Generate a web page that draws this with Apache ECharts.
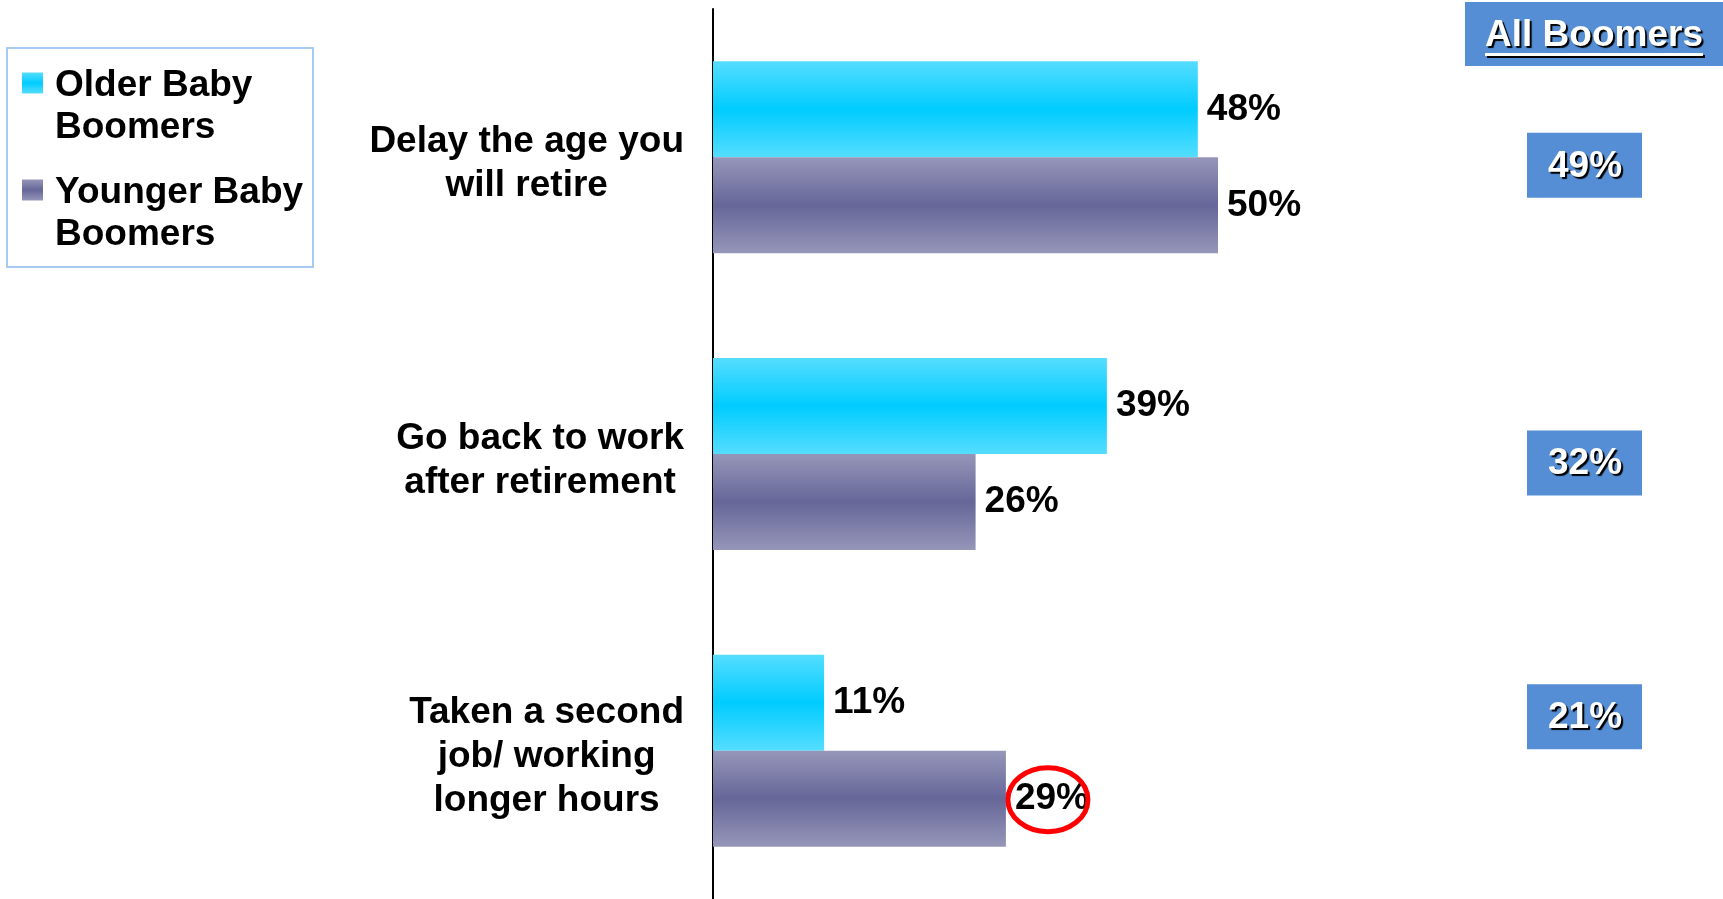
<!DOCTYPE html>
<html><head><meta charset="utf-8">
<script src="https://cdn.jsdelivr.net/npm/echarts@6/dist/echarts.min.js"></script>
<style>html,body{margin:0;padding:0;background:#fff}#c{width:1723px;height:899px}</style>
</head><body><div id="c"></div>
<script>
// ---- data ----
const categories = ['Delay the age you\nwill retire', 'Go back to work\nafter retirement', 'Taken a second\njob/ working\nlonger hours'];
const seriesNames = ['Older Baby\nBoomers', 'Younger Baby\nBoomers'];
const olderValues = [48, 39, 11];
const youngerValues = [50, 26, 29];
const allBoomersTitle = 'All Boomers';
const allBoomersValues = [49, 32, 21];
const circledSeries = 1;      // Younger Baby Boomers
const circledIndex = 2;       // third category

// ---- styling / layout ----
const FONT = '"Liberation Sans", Arial, Helvetica, sans-serif';
const BAR_W = 96;
const boxNudge = [8, 9, -34];   // vertical nudge of the "All Boomers" boxes from category centre
function vgrad(edge, mid) {
  return new echarts.graphic.LinearGradient(0, 0, 0, 1, [
    {offset: 0, color: edge}, {offset: 0.5, color: mid}, {offset: 1, color: edge}
  ]);
}
const cyan = vgrad('#55DDFF', '#00CCFF');
const purple = vgrad('#9696B9', '#666699');

const labelCfg = {
  show: true, position: 'right', distance: 9,
  formatter: '{c}%', color: '#000', fontFamily: FONT, fontWeight: 'bold', fontSize: 37
};
const legendTxt = {fontFamily: FONT, fontWeight: 'bold', fontSize: 37, color: '#000'};

const option = {
  animation: false,
  backgroundColor: '#fff',
  grid: {left: 713, top: 9, width: 1010, height: 896, containLabel: false},
  legend: {
    orient: 'vertical', left: 22, top: 22.5, padding: 0,
    itemWidth: 35, itemHeight: 21, itemGap: -17,
    icon: 'path://M0,0L10,0L10,10L0,10Z', symbolKeepAspect: true,
    data: seriesNames,
    formatter: n => '{e| }\n' + n.split('\n').map(s => '{t|' + s + '}').join('\n'),
    textStyle: Object.assign({
      rich: {e: Object.assign({lineHeight: 48}, legendTxt), t: Object.assign({lineHeight: 42}, legendTxt)}
    }, legendTxt)
  },
  xAxis: {type: 'value', min: 0, max: 100, show: false},
  yAxis: {
    type: 'category', data: categories, inverse: true,
    axisTick: {show: false},
    axisLine: {show: true, lineStyle: {color: '#000', width: 2}},
    axisLabel: {
      margin: 29, align: 'right', padding: [13, 0, 0, 0],
      formatter: v => v.split('\n').map(s => '{c|' + s + '}').join('\n'),
      rich: {c: {align: 'center', fontFamily: FONT, fontWeight: 'bold', fontSize: 37, color: '#000', lineHeight: 44}}
    }
  },
  series: [
    {name: seriesNames[0], type: 'bar', data: olderValues, barWidth: BAR_W, barGap: '0%',
     itemStyle: {color: cyan}, label: labelCfg},
    {name: seriesNames[1], type: 'bar', data: youngerValues, barWidth: BAR_W, barGap: '0%',
     itemStyle: {color: purple}, label: labelCfg}
  ]
};

const chart = echarts.init(document.getElementById('c'));
chart.setOption(option);

// ---- annotations built from data + axes ----
const g = [];
g.push({type: 'rect', shape: {x: 7, y: 48, width: 306, height: 219}, style: {fill: 'none', stroke: '#A6CAF0', lineWidth: 2}});
// header
const hdrFont = 'bold 37px ' + FONT;
const cv = document.createElement('canvas').getContext('2d');
cv.font = hdrFont;
const hdrW = cv.measureText(allBoomersTitle).width;
g.push({type: 'rect', shape: {x: 1465, y: 2, width: 258, height: 64}, style: {fill: '#558ED5'}});
g.push({type: 'rect', shape: {x: 1594 - hdrW / 2, y: 53, width: hdrW, height: 3},
        style: {fill: '#fff', shadowColor: '#000', shadowOffsetX: 2, shadowOffsetY: 2}});
g.push({type: 'text', x: 1594, y: 36, style: {text: allBoomersTitle, fill: '#fff', font: hdrFont, align: 'center', verticalAlign: 'middle',
        textShadowColor: '#000', textShadowOffsetX: 2, textShadowOffsetY: 2, textShadowBlur: 1}});
// all boomer boxes
categories.forEach((c, i) => {
  const y = chart.convertToPixel({yAxisIndex: 0}, c) + boxNudge[i];
  g.push({type: 'rect', shape: {x: 1527, y: y - 32.5, width: 115, height: 65}, style: {fill: '#558ED5'}});
  g.push({type: 'text', x: 1585, y: y + 1, style: {text: allBoomersValues[i] + '%', fill: '#fff', font: 'bold 37px ' + FONT,
          align: 'center', verticalAlign: 'middle', textShadowColor: '#000', textShadowOffsetX: 2, textShadowOffsetY: 2, textShadowBlur: 1}});
});
// red circle on highlighted label
{
  const vals = [olderValues, youngerValues][circledSeries];
  const yc = chart.convertToPixel({yAxisIndex: 0}, categories[circledIndex]) + (circledSeries === 0 ? -BAR_W / 2 : BAR_W / 2);
  const xe = chart.convertToPixel({xAxisIndex: 0}, vals[circledIndex]);
  g.push({type: 'ellipse', shape: {cx: xe + 42, cy: yc + 1, rx: 40, ry: 32}, style: {fill: 'none', stroke: '#FF0000', lineWidth: 5}, z: 100});
}
chart.setOption({graphic: g});
</script>
</body></html>
